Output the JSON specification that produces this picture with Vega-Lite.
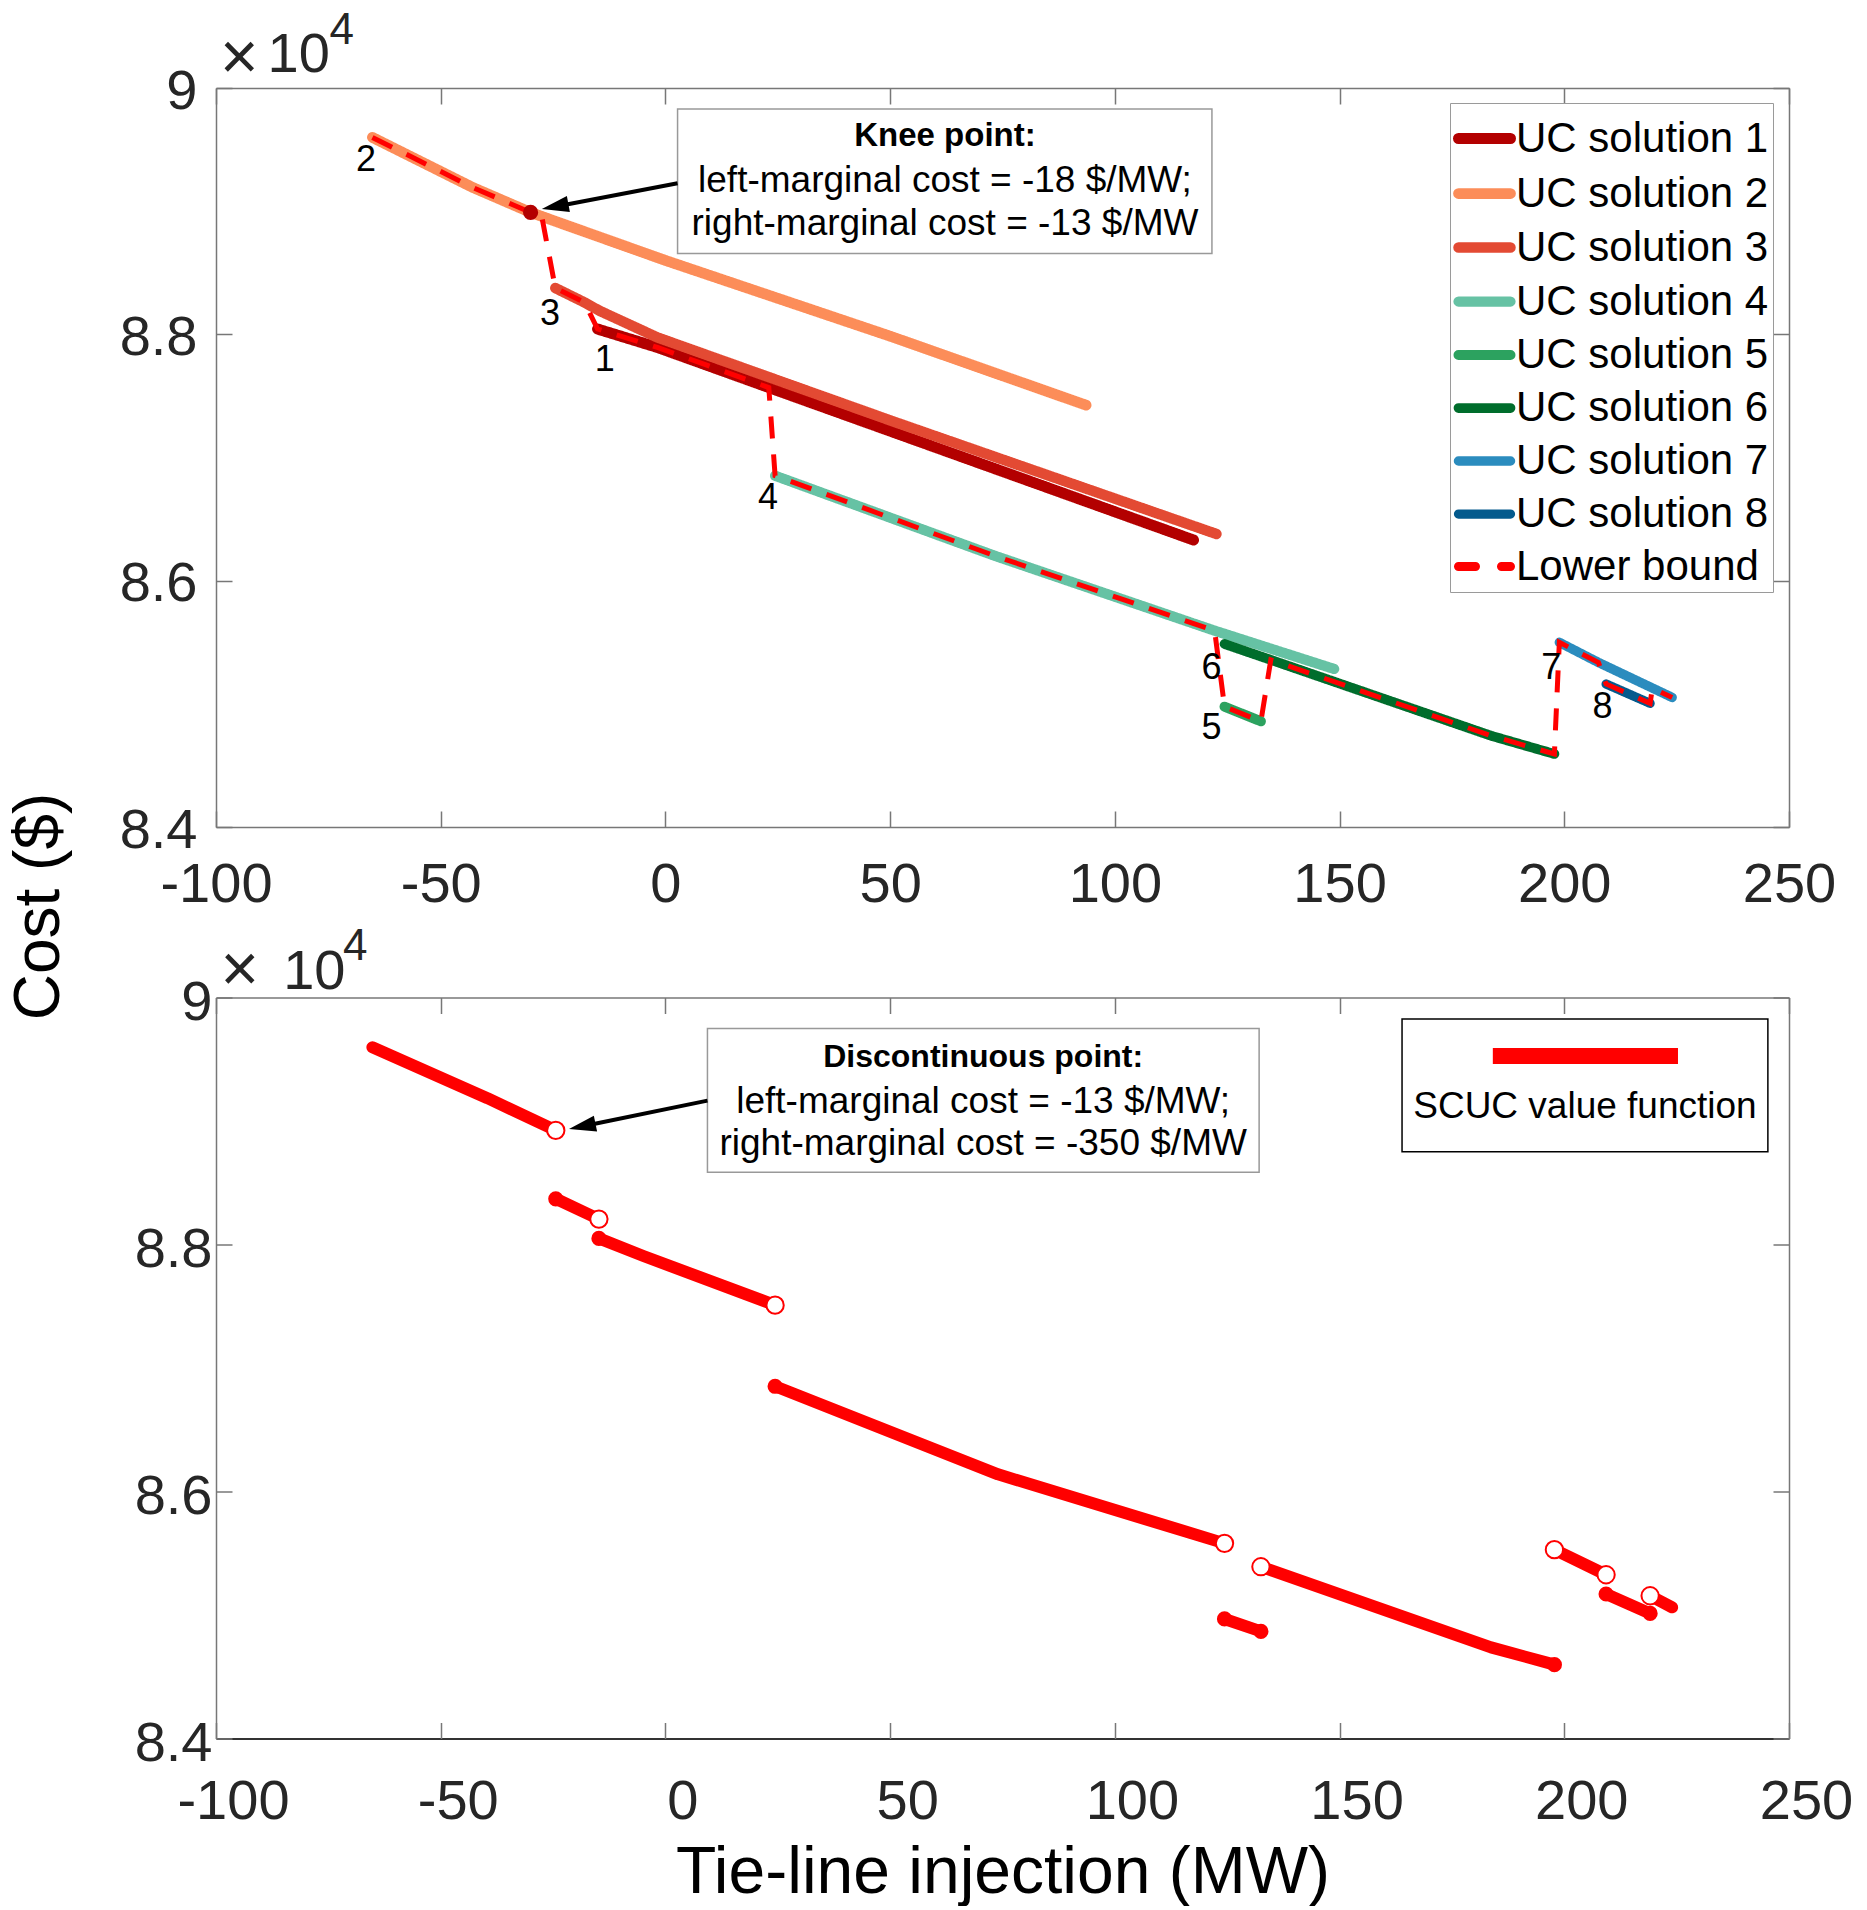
{
  "$schema": "https://vega.github.io/schema/vega-lite/v6.json",
  "background": "white",
  "padding": {"left": 7, "top": 8, "right": 0, "bottom": 0},
  "autosize": {"type": "pad"},
  "config": {
    "font": "Liberation Sans",
    "view": {"stroke": null},
    "axis": {
      "labelFont": "Liberation Sans",
      "labelFontSize": 56,
      "labelColor": "#262626",
      "domainColor": "#777777",
      "domainWidth": 1.5,
      "tickColor": "#777777",
      "tickWidth": 1.5,
      "grid": false,
      "titleFont": "Liberation Sans",
      "titleFontWeight": "normal",
      "titleColor": "#000000"
    },
    "text": {"font": "Liberation Sans"}
  },
  "datasets": {
    "uc": [
      {"series": "UC solution 1", "x": -15.1, "y": 88043},
      {"series": "UC solution 1", "x": -1.8, "y": 87894},
      {"series": "UC solution 1", "x": 24.4, "y": 87550},
      {"series": "UC solution 1", "x": 117.5, "y": 86330},
      {"series": "UC solution 2", "x": -65.2, "y": 89599},
      {"series": "UC solution 2", "x": -42.9, "y": 89193},
      {"series": "UC solution 2", "x": -30, "y": 88990},
      {"series": "UC solution 2", "x": -24.5, "y": 88918},
      {"series": "UC solution 2", "x": 0, "y": 88600},
      {"series": "UC solution 2", "x": 50, "y": 87985},
      {"series": "UC solution 2", "x": 93.6, "y": 87425},
      {"series": "UC solution 3", "x": -24.5, "y": 88376},
      {"series": "UC solution 3", "x": -18, "y": 88259},
      {"series": "UC solution 3", "x": -14.7, "y": 88192},
      {"series": "UC solution 3", "x": -1.8, "y": 87975},
      {"series": "UC solution 3", "x": 50.5, "y": 87295},
      {"series": "UC solution 3", "x": 122.6, "y": 86379},
      {"series": "UC solution 4", "x": 24.4, "y": 86852},
      {"series": "UC solution 4", "x": 73.2, "y": 86203},
      {"series": "UC solution 4", "x": 122.2, "y": 85594},
      {"series": "UC solution 4", "x": 148.8, "y": 85283},
      {"series": "UC solution 5", "x": 124.4, "y": 84977},
      {"series": "UC solution 5", "x": 132.5, "y": 84858},
      {"series": "UC solution 6", "x": 124.4, "y": 85486},
      {"series": "UC solution 6", "x": 134.7, "y": 85357},
      {"series": "UC solution 6", "x": 183.7, "y": 84741},
      {"series": "UC solution 6", "x": 197.8, "y": 84593},
      {"series": "UC solution 7", "x": 198.9, "y": 85499},
      {"series": "UC solution 7", "x": 207.6, "y": 85336},
      {"series": "UC solution 7", "x": 219.1, "y": 85137},
      {"series": "UC solution 7", "x": 224, "y": 85052},
      {"series": "UC solution 8", "x": 209.3, "y": 85161},
      {"series": "UC solution 8", "x": 219.1, "y": 85004}
    ],
    "lower": [
      {"x": -65.2, "y": 89599}, {"x": -42.9, "y": 89193}, {"x": -30, "y": 88990},
      {"x": -27.5, "y": 88955}, {"x": -24.5, "y": 88376}, {"x": -18, "y": 88259},
      {"x": -15.1, "y": 88043}, {"x": -1.8, "y": 87894}, {"x": 23, "y": 87568},
      {"x": 24.4, "y": 86852}, {"x": 73.2, "y": 86203}, {"x": 122.2, "y": 85594},
      {"x": 124.4, "y": 84977}, {"x": 132.5, "y": 84858}, {"x": 134.7, "y": 85357},
      {"x": 183.7, "y": 84741}, {"x": 197.8, "y": 84593}, {"x": 198.9, "y": 85499},
      {"x": 207.6, "y": 85336}, {"x": 209.3, "y": 85161}, {"x": 219.1, "y": 85004},
      {"x": 219.6, "y": 85128}, {"x": 224, "y": 85052}
    ],
    "knee": [{"x": -30, "y": 88990}],
    "tags": [
      {"tag": "2", "x": -66.6, "y": 89414},
      {"tag": "3", "x": -25.7, "y": 88168},
      {"tag": "1", "x": -13.5, "y": 87792},
      {"tag": "4", "x": 22.8, "y": 86674},
      {"tag": "6", "x": 121.5, "y": 85290},
      {"tag": "5", "x": 121.5, "y": 84806},
      {"tag": "7", "x": 197.1, "y": 85290},
      {"tag": "8", "x": 208.5, "y": 84973}
    ],
    "kneeBox": [{"x1": 2.7, "x2": 121.6, "y1": 89829, "y2": 88657}],
    "kneeHead": [{"x": 62.2, "y": 89613, "label": "Knee point:"}],
    "kneeText": [
      {"x": 62.2, "y": 89247, "label": "left-marginal cost = -18 $/MW;"},
      {"x": 62.2, "y": 88894, "label": "right-marginal cost = -13 $/MW"}
    ],
    "kneeShaft": [{"x1": 2.7, "y1": 89226, "x2": -22, "y2": 89054}],
    "kneeTip": [{"x": -27.5, "y": 89018}],
    "corner": [{"x": -100, "y": 90000, "times": "×", "ten": "10", "exp": "4"}],
    "vf": [
      {"seg": "A", "x": -65.2, "y": 89597}, {"seg": "A", "x": -39.6, "y": 89185}, {"seg": "A", "x": -24.4, "y": 88924},
      {"seg": "B", "x": -24.4, "y": 88370}, {"seg": "B", "x": -14.8, "y": 88206},
      {"seg": "C", "x": -14.8, "y": 88049}, {"seg": "C", "x": -4.9, "y": 87907}, {"seg": "C", "x": 24.4, "y": 87509},
      {"seg": "D", "x": 24.4, "y": 86852}, {"seg": "D", "x": 74, "y": 86139}, {"seg": "D", "x": 124.4, "y": 85580},
      {"seg": "E", "x": 124.4, "y": 84968}, {"seg": "E", "x": 132.5, "y": 84867},
      {"seg": "F", "x": 132.5, "y": 85391}, {"seg": "F", "x": 183.7, "y": 84738}, {"seg": "F", "x": 197.8, "y": 84598},
      {"seg": "G", "x": 197.8, "y": 85529}, {"seg": "G", "x": 209.3, "y": 85326},
      {"seg": "H", "x": 209.3, "y": 85170}, {"seg": "H", "x": 219.1, "y": 85013},
      {"seg": "I", "x": 219.1, "y": 85156}, {"seg": "I", "x": 224, "y": 85062}
    ],
    "closedEnds": [
      {"x": -24.4, "y": 88370}, {"x": -14.8, "y": 88049}, {"x": 24.4, "y": 86852},
      {"x": 124.4, "y": 84968}, {"x": 132.5, "y": 84867}, {"x": 197.8, "y": 84598},
      {"x": 209.3, "y": 85170}, {"x": 219.1, "y": 85013}
    ],
    "openEnds": [
      {"x": -24.4, "y": 88924}, {"x": -14.8, "y": 88206}, {"x": 24.4, "y": 87509},
      {"x": 124.4, "y": 85580}, {"x": 132.5, "y": 85391}, {"x": 197.8, "y": 85529},
      {"x": 209.3, "y": 85326}, {"x": 219.1, "y": 85156}
    ],
    "discBox": [{"x1": 9.35, "x2": 132.1, "y1": 89750, "y2": 88586}],
    "discHead": [{"x": 70.7, "y": 89515, "label": "Discontinuous point:"}],
    "discText": [
      {"x": 70.7, "y": 89151, "label": "left-marginal cost = -13 $/MW;"},
      {"x": 70.7, "y": 88814, "label": "right-marginal cost = -350 $/MW"}
    ],
    "discShaft": [{"x1": 9.35, "y1": 89165, "x2": -16.5, "y2": 88972}],
    "discTip": [{"x": -21.45, "y": 88935}],
    "keyBox": [{"x1": 163.9, "x2": 245.3, "y1": 89826, "y2": 88751}],
    "keyBar": [{"x1": 184.1, "x2": 225.3, "y": 89526}],
    "keyText": [{"x": 204.6, "y": 89110, "label": "SCUC value function"}]
  },
  "spacing": 170.5,
  "bounds": "flush",
  "vconcat": [
    {
      "width": 1573,
      "height": 739,
      "resolve": {"axis": {"x": "independent", "y": "independent"}},
      "layer": [
        {
          "data": {"name": "uc"},
          "mark": {"type": "line", "strokeCap": "round", "strokeJoin": "round"},
          "encoding": {
            "x": {
              "field": "x", "type": "quantitative",
              "scale": {"domain": [-100, 250], "nice": false, "zero": false},
              "axis": {"orient": "bottom", "values": [-100, -50, 0, 50, 100, 150, 200, 250], "ticks": false, "labelFlush": false, "labelOverlap": false, "labelPadding": 30, "labelExpr": "datum.value + ''", "title": null}
            },
            "y": {
              "field": "y", "type": "quantitative",
              "scale": {"domain": [84000, 90000], "nice": false, "zero": false},
              "axis": {
                "orient": "left", "values": [84000, 86000, 88000, 90000], "ticks": false,
                "labelPadding": 19, "labelOffset": 3,
                "labelExpr": "format(datum.value / 10000, '~g')",
                "title": "Cost ($)", "titleX": -177, "titleY": 818, "titleAngle": 270,
                "titleAlign": "center", "titleBaseline": "middle", "titleFontSize": 64
              }
            },
            "color": {
              "field": "series", "type": "ordinal",
              "scale": {
                "domain": ["UC solution 1", "UC solution 2", "UC solution 3", "UC solution 4", "UC solution 5", "UC solution 6", "UC solution 7", "UC solution 8", "Lower bound"],
                "range": ["#B30000", "#FC8D59", "#E34A33", "#66C2A4", "#2CA25F", "#006D2C", "#2B8CBE", "#045A8D", "#FF0000"]
              },
              "legend": {
                "title": null, "orient": "none", "legendX": 1234, "legendY": 15,
                "symbolType": "stroke", "symbolSize": 2704, "symbolOffset": -1,
                "labelFontSize": 42, "labelFont": "Liberation Sans", "labelColor": "#000000",
                "labelOffset": 0, "labelLimit": 0, "rowPadding": 1, "padding": 4,
                "strokeColor": "#9a9a9a", "fillColor": "white",
                "encode": {"symbols": {"update": {"strokeCap": {"value": "round"}}}}
              }
            },
            "strokeDash": {
              "field": "series", "type": "ordinal",
              "scale": {
                "domain": ["UC solution 1", "UC solution 2", "UC solution 3", "UC solution 4", "UC solution 5", "UC solution 6", "UC solution 7", "UC solution 8", "Lower bound"],
                "range": [[1, 0], [1, 0], [1, 0], [1, 0], [1, 0], [1, 0], [1, 0], [1, 0], [17, 26]]
              },
              "legend": {
                "title": null, "orient": "none", "legendX": 1234, "legendY": 15,
                "symbolType": "stroke", "symbolSize": 2704, "symbolOffset": -1,
                "labelFontSize": 42, "labelFont": "Liberation Sans", "labelColor": "#000000",
                "labelOffset": 0, "labelLimit": 0, "rowPadding": 1, "padding": 4,
                "strokeColor": "#9a9a9a", "fillColor": "white",
                "encode": {"symbols": {"update": {"strokeCap": {"value": "round"}}}}
              }
            },
            "strokeWidth": {
              "field": "series", "type": "ordinal",
              "scale": {
                "domain": ["UC solution 1", "UC solution 2", "UC solution 3", "UC solution 4", "UC solution 5", "UC solution 6", "UC solution 7", "UC solution 8", "Lower bound"],
                "range": [11, 9, 9, 9, 9, 10, 9, 10, 5]
              },
              "legend": {
                "title": null, "orient": "none", "legendX": 1234, "legendY": 15,
                "symbolType": "stroke", "symbolSize": 2704, "symbolOffset": -1,
                "labelFontSize": 42, "labelFont": "Liberation Sans", "labelColor": "#000000",
                "labelOffset": 0, "labelLimit": 0, "rowPadding": 1, "padding": 4,
                "strokeColor": "#9a9a9a", "fillColor": "white",
                "encode": {"symbols": {"update": {"strokeCap": {"value": "round"}}}}
              }
            }
          }
        },
        {
          "data": {"name": "lower"},
          "mark": {"type": "line", "color": "#FF0000", "strokeWidth": 5, "strokeDash": [22, 16]},
          "encoding": {
            "x": {"field": "x", "type": "quantitative", "axis": {"orient": "bottom", "values": [-100, -50, 0, 50, 100, 150, 200, 250], "labels": false, "domain": false, "tickSize": -16, "title": null}},
            "y": {"field": "y", "type": "quantitative", "axis": {"orient": "left", "values": [84000, 86000, 88000, 90000], "labels": false, "domain": false, "tickSize": -16, "title": null}}
          }
        },
        {
          "data": {"name": "knee"},
          "mark": {"type": "point", "filled": true, "color": "#B30000", "size": 230, "opacity": 1},
          "encoding": {
            "x": {"field": "x", "type": "quantitative", "axis": {"orient": "top", "values": [-100, -50, 0, 50, 100, 150, 200, 250], "labels": false, "tickSize": -16, "title": null}},
            "y": {"field": "y", "type": "quantitative", "axis": {"orient": "right", "values": [84000, 86000, 88000, 90000], "labels": false, "tickSize": -16, "title": null}}
          }
        },
        {
          "data": {"name": "tags"},
          "mark": {"type": "text", "fontSize": 36, "color": "#000000", "align": "center", "baseline": "middle"},
          "encoding": {
            "x": {"field": "x", "type": "quantitative", "axis": null},
            "y": {"field": "y", "type": "quantitative", "axis": null},
            "text": {"field": "tag"}
          }
        },
        {
          "data": {"name": "kneeBox"},
          "mark": {"type": "rect", "fill": "white", "stroke": "#999999", "strokeWidth": 1.5},
          "encoding": {
            "x": {"field": "x1", "type": "quantitative", "axis": null},
            "x2": {"field": "x2"},
            "y": {"field": "y1", "type": "quantitative", "axis": null},
            "y2": {"field": "y2"}
          }
        },
        {
          "data": {"name": "kneeHead"},
          "mark": {"type": "text", "fontSize": 33, "fontWeight": "bold", "color": "#000000", "align": "center", "baseline": "middle"},
          "encoding": {
            "x": {"field": "x", "type": "quantitative", "axis": null},
            "y": {"field": "y", "type": "quantitative", "axis": null},
            "text": {"field": "label"}
          }
        },
        {
          "data": {"name": "kneeText"},
          "mark": {"type": "text", "fontSize": 37, "color": "#000000", "align": "center", "baseline": "middle"},
          "encoding": {
            "x": {"field": "x", "type": "quantitative", "axis": null},
            "y": {"field": "y", "type": "quantitative", "axis": null},
            "text": {"field": "label"}
          }
        },
        {
          "data": {"name": "kneeShaft"},
          "mark": {"type": "rule", "color": "#000000", "strokeWidth": 4},
          "encoding": {
            "x": {"field": "x1", "type": "quantitative", "axis": null},
            "y": {"field": "y1", "type": "quantitative", "axis": null},
            "x2": {"field": "x2"},
            "y2": {"field": "y2"}
          }
        },
        {
          "data": {"name": "kneeTip"},
          "mark": {"type": "point", "shape": "M0,0L2,-0.6L2,0.6Z", "filled": true, "color": "#000000", "size": 729, "angle": -10.7, "opacity": 1},
          "encoding": {
            "x": {"field": "x", "type": "quantitative", "axis": null},
            "y": {"field": "y", "type": "quantitative", "axis": null}
          }
        },
        {
          "data": {"name": "corner"},
          "mark": {"type": "text", "fontSize": 66, "color": "#262626", "align": "left", "baseline": "alphabetic", "dx": 3.9, "dy": -8.7},
          "encoding": {
            "x": {"field": "x", "type": "quantitative", "axis": null},
            "y": {"field": "y", "type": "quantitative", "axis": null},
            "text": {"field": "times"}
          }
        },
        {
          "data": {"name": "corner"},
          "mark": {"type": "text", "fontSize": 56, "color": "#262626", "align": "left", "baseline": "alphabetic", "dx": 51.5, "dy": -15.6},
          "encoding": {
            "x": {"field": "x", "type": "quantitative", "axis": null},
            "y": {"field": "y", "type": "quantitative", "axis": null},
            "text": {"field": "ten"}
          }
        },
        {
          "data": {"name": "corner"},
          "mark": {"type": "text", "fontSize": 44, "color": "#262626", "align": "left", "baseline": "alphabetic", "dx": 113.5, "dy": -44.3},
          "encoding": {
            "x": {"field": "x", "type": "quantitative", "axis": null},
            "y": {"field": "y", "type": "quantitative", "axis": null},
            "text": {"field": "exp"}
          }
        }
      ]
    },
    {
      "width": 1573,
      "height": 741,
      "resolve": {"axis": {"x": "independent", "y": "independent"}},
      "layer": [
        {
          "data": {"name": "vf"},
          "mark": {"type": "line", "color": "#FF0000", "strokeWidth": 12, "strokeCap": "round", "strokeJoin": "round"},
          "encoding": {
            "x": {
              "field": "x", "type": "quantitative",
              "scale": {"domain": [-100, 250], "nice": false, "zero": false},
              "axis": {
                "orient": "bottom", "values": [-100, -50, 0, 50, 100, 150, 200, 250], "ticks": false,
                "labelFlush": false, "labelOverlap": false, "labelPadding": 36, "labelOffset": 17,
                "labelExpr": "datum.value + ''",
                "domainColor": "#333333", "domainWidth": 2,
                "title": "Tie-line injection (MW)", "titleFontSize": 66, "titleY": 102, "titleBaseline": "top"
              }
            },
            "y": {
              "field": "y", "type": "quantitative",
              "scale": {"domain": [84000, 90000], "nice": false, "zero": false},
              "axis": {
                "orient": "left", "values": [84000, 86000, 88000, 90000], "ticks": false,
                "labelPadding": 4, "labelOffset": 5,
                "labelExpr": "format(datum.value / 10000, '~g')", "title": null
              }
            },
            "detail": {"field": "seg", "type": "nominal"}
          }
        },
        {
          "data": {"name": "closedEnds"},
          "mark": {"type": "point", "filled": true, "color": "#FF0000", "size": 230, "opacity": 1},
          "encoding": {
            "x": {"field": "x", "type": "quantitative", "axis": {"orient": "bottom", "values": [-100, -50, 0, 50, 100, 150, 200, 250], "labels": false, "domain": false, "tickSize": -16, "title": null}},
            "y": {"field": "y", "type": "quantitative", "axis": {"orient": "left", "values": [84000, 86000, 88000, 90000], "labels": false, "domain": false, "tickSize": -16, "title": null}}
          }
        },
        {
          "data": {"name": "openEnds"},
          "mark": {"type": "point", "filled": true, "fill": "white", "stroke": "#FF0000", "strokeWidth": 2, "size": 300, "opacity": 1},
          "encoding": {
            "x": {"field": "x", "type": "quantitative", "axis": {"orient": "top", "values": [-100, -50, 0, 50, 100, 150, 200, 250], "labels": false, "tickSize": -16, "title": null}},
            "y": {"field": "y", "type": "quantitative", "axis": {"orient": "right", "values": [84000, 86000, 88000, 90000], "labels": false, "tickSize": -16, "title": null}}
          }
        },
        {
          "data": {"name": "discBox"},
          "mark": {"type": "rect", "fill": "white", "stroke": "#999999", "strokeWidth": 1.5},
          "encoding": {
            "x": {"field": "x1", "type": "quantitative", "axis": null},
            "x2": {"field": "x2"},
            "y": {"field": "y1", "type": "quantitative", "axis": null},
            "y2": {"field": "y2"}
          }
        },
        {
          "data": {"name": "discHead"},
          "mark": {"type": "text", "fontSize": 32, "fontWeight": "bold", "color": "#000000", "align": "center", "baseline": "middle"},
          "encoding": {
            "x": {"field": "x", "type": "quantitative", "axis": null},
            "y": {"field": "y", "type": "quantitative", "axis": null},
            "text": {"field": "label"}
          }
        },
        {
          "data": {"name": "discText"},
          "mark": {"type": "text", "fontSize": 37, "color": "#000000", "align": "center", "baseline": "middle"},
          "encoding": {
            "x": {"field": "x", "type": "quantitative", "axis": null},
            "y": {"field": "y", "type": "quantitative", "axis": null},
            "text": {"field": "label"}
          }
        },
        {
          "data": {"name": "discShaft"},
          "mark": {"type": "rule", "color": "#000000", "strokeWidth": 4},
          "encoding": {
            "x": {"field": "x1", "type": "quantitative", "axis": null},
            "y": {"field": "y1", "type": "quantitative", "axis": null},
            "x2": {"field": "x2"},
            "y2": {"field": "y2"}
          }
        },
        {
          "data": {"name": "discTip"},
          "mark": {"type": "point", "shape": "M0,0L2,-0.6L2,0.6Z", "filled": true, "color": "#000000", "size": 729, "angle": -11.6, "opacity": 1},
          "encoding": {
            "x": {"field": "x", "type": "quantitative", "axis": null},
            "y": {"field": "y", "type": "quantitative", "axis": null}
          }
        },
        {
          "data": {"name": "keyBox"},
          "mark": {"type": "rect", "fill": "white", "stroke": "#000000", "strokeWidth": 1.5},
          "encoding": {
            "x": {"field": "x1", "type": "quantitative", "axis": null},
            "x2": {"field": "x2"},
            "y": {"field": "y1", "type": "quantitative", "axis": null},
            "y2": {"field": "y2"}
          }
        },
        {
          "data": {"name": "keyBar"},
          "mark": {"type": "rule", "color": "#FF0000", "strokeWidth": 16},
          "encoding": {
            "x": {"field": "x1", "type": "quantitative", "axis": null},
            "x2": {"field": "x2"},
            "y": {"field": "y", "type": "quantitative", "axis": null}
          }
        },
        {
          "data": {"name": "keyText"},
          "mark": {"type": "text", "fontSize": 37, "color": "#000000", "align": "center", "baseline": "middle"},
          "encoding": {
            "x": {"field": "x", "type": "quantitative", "axis": null},
            "y": {"field": "y", "type": "quantitative", "axis": null},
            "text": {"field": "label"}
          }
        },
        {
          "data": {"name": "corner"},
          "mark": {"type": "text", "fontSize": 66, "color": "#262626", "align": "left", "baseline": "alphabetic", "dx": 4.6, "dy": -6.8},
          "encoding": {
            "x": {"field": "x", "type": "quantitative", "axis": null},
            "y": {"field": "y", "type": "quantitative", "axis": null},
            "text": {"field": "times"}
          }
        },
        {
          "data": {"name": "corner"},
          "mark": {"type": "text", "fontSize": 56, "color": "#262626", "align": "left", "baseline": "alphabetic", "dx": 67.2, "dy": -8.1},
          "encoding": {
            "x": {"field": "x", "type": "quantitative", "axis": null},
            "y": {"field": "y", "type": "quantitative", "axis": null},
            "text": {"field": "ten"}
          }
        },
        {
          "data": {"name": "corner"},
          "mark": {"type": "text", "fontSize": 44, "color": "#262626", "align": "left", "baseline": "alphabetic", "dx": 127, "dy": -37.8},
          "encoding": {
            "x": {"field": "x", "type": "quantitative", "axis": null},
            "y": {"field": "y", "type": "quantitative", "axis": null},
            "text": {"field": "exp"}
          }
        }
      ]
    }
  ]
}
